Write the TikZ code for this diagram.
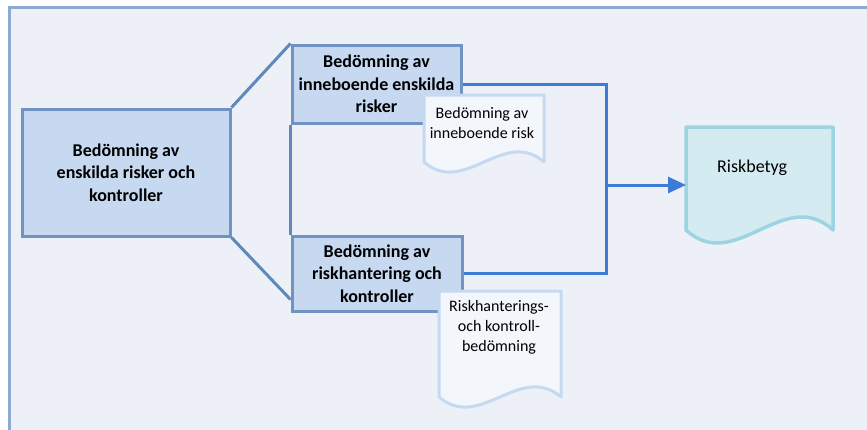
\documentclass[tikz,border=0pt]{standalone}
\usepackage{fontspec}
\setmainfont{Carlito}
\usetikzlibrary{arrows.meta}
\definecolor{panelbg}{HTML}{EDF1F7}
\definecolor{panelline}{HTML}{8EAAD0}
\definecolor{boxfill}{HTML}{C6D9F1}
\definecolor{boxline}{HTML}{7093C3}
\definecolor{linkline}{HTML}{5F88BC}
\definecolor{riskline}{HTML}{3D7BD9}
\definecolor{paperfill}{HTML}{F3F6FA}
\definecolor{paperline}{HTML}{C5D9F1}
\definecolor{scorefill}{HTML}{D3EBF1}
\definecolor{scoreline}{HTML}{9DD4E1}
\tikzset{x=1pt, y=-1pt,
         >={Triangle[length=18pt, width=16pt]},
         assess/.style={draw=boxline, fill=boxfill, line width=3pt,
                        inner sep=0pt, align=center,
                        font=\bfseries\fontsize{18}{22.5}\selectfont},
         paper/.style={draw=paperline, fill=paperfill, line width=3pt, line join=round},
         papertext/.style={inner sep=0pt, align=center,
                           font=\fontsize{16}{20}\selectfont},
         link/.style={draw=linkline, line width=3pt},
         flow/.style={draw=riskline, line width=3pt},
         }

\begin{document}
\begin{tikzpicture}
    \useasboundingbox (0,0) rectangle (867,429);
    % panel
    \draw[draw=panelline, fill=panelbg, line width=3pt] (9,7) rectangle (900,470);

    \node[assess, minimum width=208pt, minimum height=127pt] (main) at (126,172.5)
        {Bedömning av\\enskilda risker och\\kontroller};
    \node[assess, minimum width=169pt, minimum height=78pt] (inh) at (376.5,84)
        {Bedömning av\\inneboende enskilda\\risker};
    \node[assess, minimum width=170pt, minimum height=75pt] (ctl) at (377,273.5)
        {Bedömning av\\riskhantering och\\kontroller};

    \draw[link] (main.north east) -- (inh.north west);
    \draw[link] (main.south east) -- ([yshift=13pt]ctl.south west);
    \draw[link] (inh.south west) -- (ctl.north west);

    \coordinate (join) at (606,185);
    \draw[flow] (inh.east) -| (join) |- (ctl.east);

    % documents
    \draw[paper] (424,95) -- (544,95) -- (544,162)
        .. controls (504,127) and (464,197) .. (424,162) -- cycle;
    \node[papertext] (inhdoc) at (482,123) {Bedömning av\\inneboende risk};

    \draw[paper] (439,291) -- (561,291) -- (561,397)
        .. controls (520,362) and (480,432) .. (439,397) -- cycle;
    \node[papertext, font=\fontsize{16}{20}\selectfont] (ctldoc) at (499,327)
        {Riskhanterings-\\och kontroll-\\bedömning};

    \draw[paper, draw=scoreline, fill=scorefill, line width=3.5pt] (686,127) -- (833,127) -- (833,230)
        .. controls (784,185) and (735,275) .. (686,230) -- cycle;
    \node[papertext, font=\fontsize{18}{20}\selectfont, anchor=west, inner xsep=31pt] (score) at (686,168) {Riskbetyg};

    \draw[flow, ->] (join) -- (join -| score.west);
\end{tikzpicture}
\end{document}
